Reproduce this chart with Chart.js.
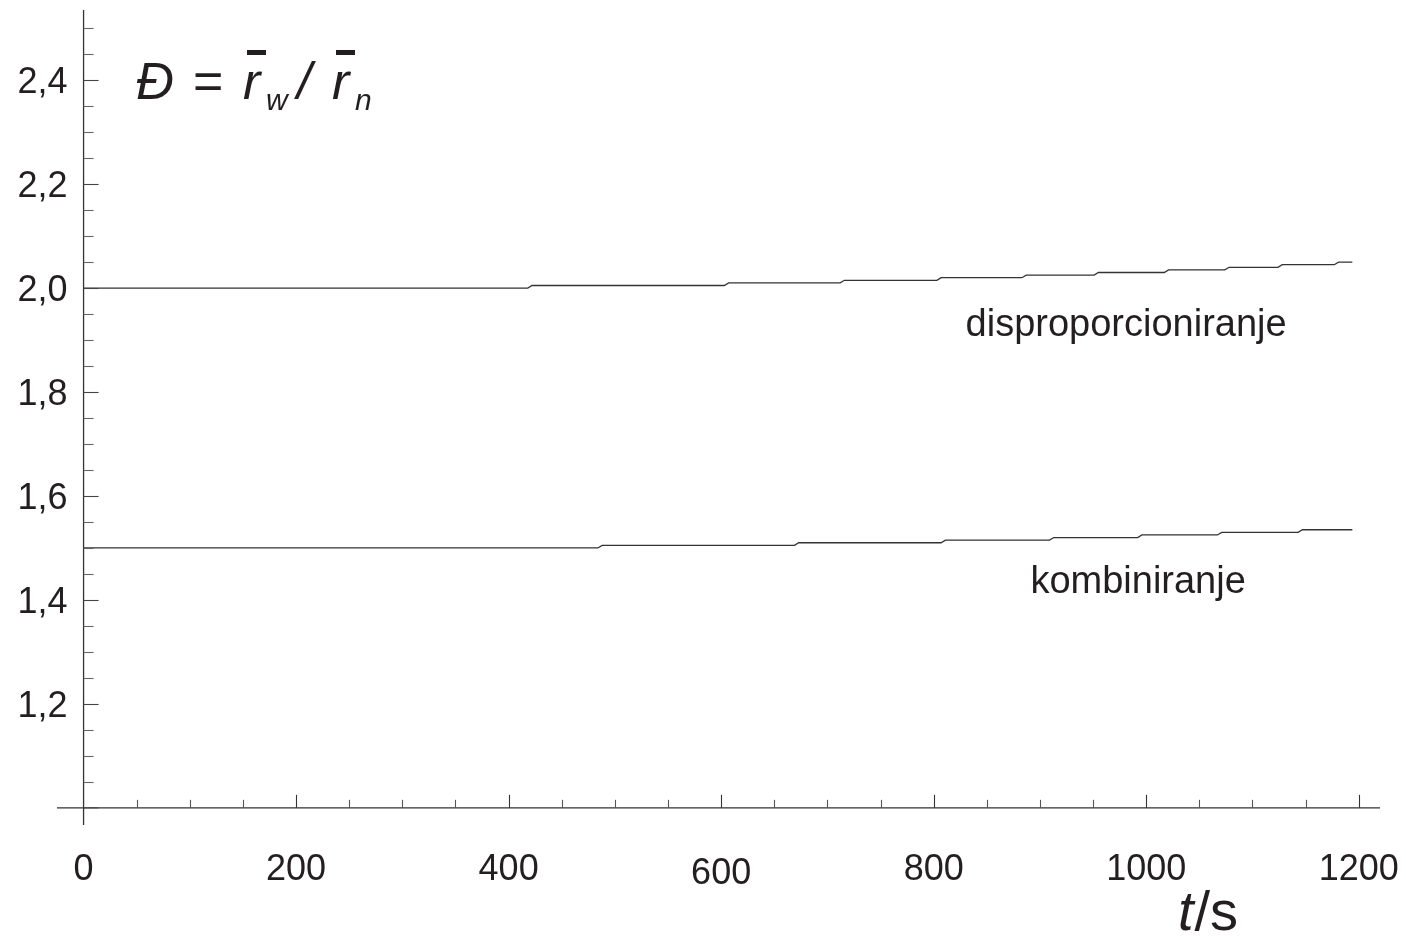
<!DOCTYPE html>
<html>
<head>
<meta charset="utf-8">
<script src="https://cdn.jsdelivr.net/npm/chart.js@4/dist/chart.umd.min.js"></script>
<style>
  html, body { margin: 0; padding: 0; background: #fff; }
  #wrap { width: 1406px; height: 936px; position: relative; }
</style>
</head>
<body>
<div id="wrap"><canvas id="my-chart" width="1406" height="936"></canvas></div>
<script>
// disproporcioniranje: step corners
const dispTimes = [0, 418, 422, 603, 607, 712, 716, 803, 807, 883, 887, 951, 955, 1017, 1021, 1074, 1078, 1124, 1128, 1177, 1181, 1194];
const dispValues = [2.000, 2.000, 2.005, 2.005, 2.010, 2.010, 2.015, 2.015, 2.020, 2.020, 2.025, 2.025, 2.030, 2.030, 2.035, 2.035, 2.040, 2.040, 2.045, 2.045, 2.050, 2.050];

// kombiniranje
const kombTimes = [0, 484, 488, 669, 673, 807, 811, 909, 913, 992, 996, 1067, 1071, 1143, 1147, 1194];
const kombValues = [1.500, 1.500, 1.505, 1.505, 1.510, 1.510, 1.515, 1.515, 1.520, 1.520, 1.525, 1.525, 1.530, 1.530, 1.535, 1.535];

const xTickValues = [0, 200, 400, 600, 800, 1000, 1200];
const xTickLabels = ["0", "200", "400", "600", "800", "1000", "1200"];
const yTickValues = [1.2, 1.4, 1.6, 1.8, 2.0, 2.2, 2.4];
const yTickLabels = ["1,2", "1,4", "1,6", "1,8", "2,0", "2,2", "2,4"];

const lineLabels = [
  { text: "disproporcioniranje", t: 830, v: 1.907 },
  { text: "kombiniranje", t: 891, v: 1.414 }
];

function toPoints(ts, vs) {
  return ts.map((t, i) => ({ x: t, y: vs[i] }));
}

const FONT = "'Liberation Sans', Arial, sans-serif";
const INK = "#231f20";

const axesPlugin = {
  id: "axesPlugin",
  afterDraw(chart) {
    const ctx = chart.ctx;
    const xs = chart.scales.x;
    const ys = chart.scales.y;
    const x0 = xs.getPixelForValue(0);
    const y0 = ys.getPixelForValue(1.0);
    ctx.save();

    // axis lines
    ctx.strokeStyle = "#333";
    ctx.lineWidth = 1.3;
    ctx.beginPath();
    ctx.moveTo(xs.left, y0);
    ctx.lineTo(xs.right, y0);
    ctx.moveTo(x0, ys.top);
    ctx.lineTo(x0, ys.bottom);
    ctx.stroke();

    // y ticks every 0.05, major every 0.2
    ctx.lineWidth = 1.1;
    for (let k = 21; k <= 50; k++) {
      const v = k * 0.05;
      const py = Math.round(ys.getPixelForValue(v)) + 0.5;
      const major = k % 4 === 0;
      ctx.strokeStyle = major ? "#444" : "#666";
      ctx.beginPath();
      ctx.moveTo(x0, py);
      ctx.lineTo(x0 + (major ? 15 : 10), py);
      ctx.stroke();
    }
    ctx.beginPath();
    ctx.strokeStyle = "#444";
    ctx.moveTo(x0, y0);
    ctx.lineTo(x0 + 15, y0);
    ctx.stroke();

    // x ticks every 50, major every 200
    for (let k = 1; k <= 24; k++) {
      const t = k * 50;
      const px = Math.round(xs.getPixelForValue(t)) + 0.5;
      const major = t % 200 === 0;
      ctx.strokeStyle = major ? "#333" : "#555";
      ctx.beginPath();
      ctx.moveTo(px, y0);
      ctx.lineTo(px, y0 - (major ? 13 : 8));
      ctx.stroke();
    }

    // tick labels
    ctx.fillStyle = INK;
    ctx.font = "36px " + FONT;
    ctx.textAlign = "right";
    ctx.textBaseline = "alphabetic";
    yTickValues.forEach((v, i) => {
      ctx.fillText(yTickLabels[i], x0 - 16, ys.getPixelForValue(v) + 13);
    });
    ctx.textAlign = "center";
    xTickValues.forEach((t, i) => {
      const dy = t === 600 ? 4 : 0;
      ctx.fillText(xTickLabels[i], xs.getPixelForValue(t), y0 + 72 + dy);
    });

    // line labels
    ctx.font = "38px " + FONT;
    ctx.textAlign = "left";
    lineLabels.forEach((l) => {
      ctx.fillText(l.text, xs.getPixelForValue(l.t), ys.getPixelForValue(l.v));
    });

    // axis title t/s
    ctx.font = "italic 56px " + FONT;
    ctx.fillText("t", 1178, 930);
    const tw = ctx.measureText("t").width;
    ctx.font = "56px " + FONT;
    ctx.fillText("/s", 1178 + tw + 1, 930);

    // formula  Đ = r̄w / r̄n
    ctx.font = "italic 52px " + FONT;
    ctx.fillText("\u0110", 136, 99);
    ctx.font = "52px " + FONT;
    ctx.fillText("=", 193, 99);
    ctx.font = "italic 52px " + FONT;
    ctx.fillText("r", 243, 99);
    ctx.fillRect(247, 50, 19, 5);
    ctx.font = "italic 30px " + FONT;
    ctx.fillText("w", 266, 110);
    ctx.font = "italic 52px " + FONT;
    ctx.fillText("/", 297, 99);
    ctx.fillText("r", 332, 99);
    ctx.fillRect(336, 50, 19, 5);
    ctx.font = "italic 30px " + FONT;
    ctx.fillText("n", 355, 110);

    ctx.restore();
  }
};

const ctx = document.getElementById("my-chart").getContext("2d");
const chart = new Chart(ctx, {
  type: "line",
  data: {
    datasets: [
      {
        label: "disproporcioniranje",
        data: toPoints(dispTimes, dispValues),
        borderColor: "#333",
        borderWidth: 1.3,
        pointRadius: 0,
        tension: 0,
      },
      {
        label: "kombiniranje",
        data: toPoints(kombTimes, kombValues),
        borderColor: "#333",
        borderWidth: 1.3,
        pointRadius: 0,
        tension: 0,
      },
    ],
  },
  options: {
    responsive: false,
    animation: false,
    layout: { padding: { left: 57, right: 26, top: 10, bottom: 111 } },
    plugins: {
      legend: { display: false },
      tooltip: { enabled: false },
    },
    scales: {
      x: { type: "linear", min: -25, max: 1220, display: false },
      y: { type: "linear", min: 0.967, max: 2.535, display: false },
    },
  },
  plugins: [axesPlugin],
});
</script>
</body>
</html>
